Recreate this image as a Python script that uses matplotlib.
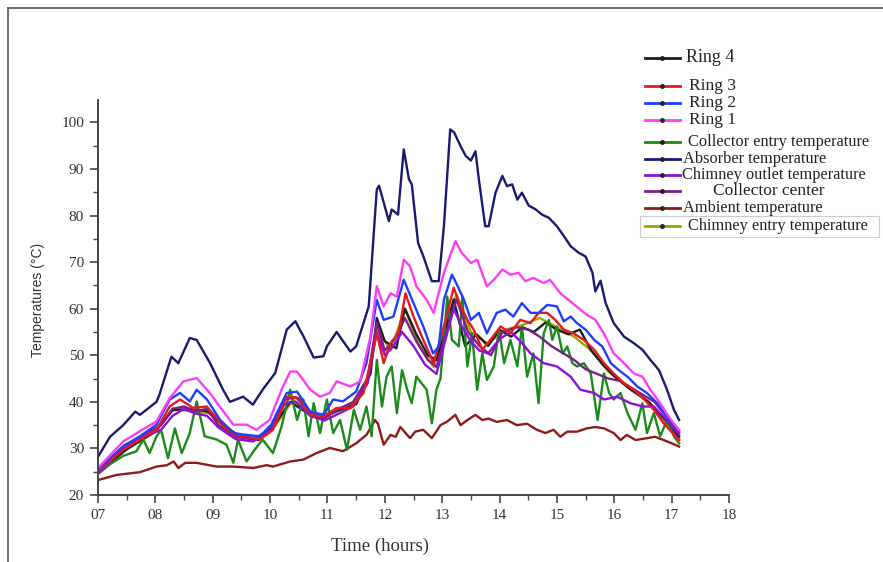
import matplotlib
matplotlib.use("Agg")
import matplotlib.pyplot as plt
from matplotlib.lines import Line2D
from matplotlib.patches import Rectangle
from matplotlib.ticker import MultipleLocator, FixedLocator

W, H = 883, 562

# ---------------- data ----------------
x_ticks = [7, 8, 9, 10, 11, 12, 13, 14, 15, 16, 17, 18]
x_tick_labels = ["07", "08", "09", "10", "11", "12", "13", "14", "15", "16", "17", "18"]
y_ticks = [20, 30, 40, 50, 60, 70, 80, 90, 100]

t_abs = [7.0,7.21,7.44,7.65,7.73,8.02,8.07,8.28,8.4,8.6,8.72,8.95,9.18,9.3,9.53,9.7,9.87,10.09,10.29,10.44,10.58,10.76,10.93,10.99,11.16,11.4,11.5,11.72,11.86,11.9,12.07,12.12,12.23,12.33,12.42,12.47,12.58,12.67,12.82,12.94,13.03,13.14,13.21,13.32,13.41,13.5,13.58,13.64,13.75,13.81,13.93,14.05,14.13,14.22,14.31,14.39,14.51,14.62,14.74,14.86,15.0,15.12,15.24,15.38,15.5,15.62,15.67,15.76,15.85,15.99,16.17,16.34,16.49,16.63,16.78,16.92,17.04,17.13]
v_abs = [28.2,32.5,35,37.9,37.2,40,41.5,49.7,48.3,53.7,53.3,48.4,42.6,40,41.1,39.4,42.6,46.2,55.5,57.3,54.1,49.5,49.8,51.9,55,50.8,51.9,60.5,85.6,86.4,78.8,81.3,80.2,94.2,87.8,86.7,74.1,71.3,65.9,65.9,77.7,98.5,97.8,94.9,92.8,91.8,93.8,87.7,77.7,77.7,84.9,88.5,86.3,86.7,83.4,84.9,82.1,81.4,80.2,79.5,77.7,75.6,73.4,72,71.2,67.7,63.7,66,61.2,56.9,54,52.6,51.2,49,46.8,42.6,38.3,36.1]

t_amb = [7.0,7.32,7.73,8.02,8.2,8.32,8.4,8.52,8.72,9.07,9.36,9.71,9.94,10.05,10.35,10.58,10.81,11.04,11.27,11.5,11.68,11.83,11.88,11.98,12.1,12.19,12.27,12.44,12.53,12.67,12.82,12.97,13.08,13.23,13.32,13.44,13.58,13.7,13.81,13.95,14.13,14.3,14.48,14.65,14.8,14.94,15.06,15.18,15.35,15.52,15.67,15.82,15.99,16.11,16.22,16.37,16.57,16.71,16.86,17.0,17.13]
v_amb = [23.2,24.3,24.9,26.1,26.4,27.2,25.8,26.9,26.9,26.1,26.1,25.8,26.4,26.1,27.2,27.6,29,30.1,29.4,31.1,32.9,36.1,35.3,30.8,32.9,32.5,34.6,32.2,33.6,34,32.2,35,35.7,37.2,35,36.1,37.2,36.1,36.4,35.7,36.1,35,35.3,34,33.3,34,32.5,33.6,33.6,34.3,34.6,34.3,33.3,31.8,32.9,31.8,32.2,32.5,31.8,31.1,30.4]

t_r1 = [7.0,7.44,7.73,8.02,8.25,8.49,8.72,8.95,9.18,9.36,9.59,9.76,9.99,10.2,10.35,10.47,10.7,10.87,11.04,11.16,11.4,11.57,11.75,11.86,11.98,12.1,12.21,12.33,12.44,12.55,12.73,12.85,13.03,13.23,13.34,13.5,13.61,13.78,13.9,14.05,14.19,14.33,14.45,14.59,14.77,14.88,15.06,15.2,15.38,15.52,15.67,15.82,15.99,16.17,16.34,16.49,16.63,16.8,16.95,17.13]
v_r1 = [25.8,31.5,33.7,35.8,40.8,44.4,45.1,41.9,38,35.1,35.1,34,36.1,42.6,46.5,46.5,42.6,41.1,41.9,44.4,43.3,44.4,54,64.8,60.5,63.3,62.6,70.5,69.1,64.8,61.9,59.1,67.7,74.5,72,69.8,70.5,64.8,66.2,68.4,67.3,67.7,65.9,66.6,65.5,66.2,63.3,61.9,60.1,58.7,57.6,54.7,50.4,48.3,46.1,45.4,42.6,39.7,36.8,33.9]

t_r2 = [7.0,7.44,7.73,8.02,8.25,8.43,8.6,8.72,8.9,9.13,9.36,9.59,9.82,10.02,10.29,10.47,10.7,10.93,11.1,11.27,11.5,11.68,11.86,11.98,12.15,12.33,12.5,12.67,12.84,12.94,13.03,13.17,13.26,13.38,13.5,13.64,13.78,13.95,14.1,14.24,14.39,14.54,14.68,14.83,15.0,15.12,15.24,15.35,15.5,15.65,15.79,15.94,16.08,16.23,16.4,16.57,16.75,16.92,17.13]
v_r2 = [25.5,30.5,32.6,35.1,40.5,41.9,40.1,42.6,40.5,36.1,33.3,32.9,32.6,35.1,41.9,42.2,37.9,37.2,40.5,40.1,42.2,48.3,61.9,57.6,58.3,66.2,61.2,56.2,50.4,51.9,61.9,67.3,65.1,61.9,57.6,59.1,54.7,59.1,59.8,58.3,61.2,59.1,59.1,60.8,60.5,57.3,58.3,56.9,55.5,53.3,51.9,48.3,46.8,45.4,43.3,41.9,39.7,36.8,33.9]

t_r3 = [7.0,7.44,7.73,8.02,8.25,8.43,8.66,8.9,9.13,9.36,9.59,9.82,10.05,10.29,10.5,10.7,10.93,11.16,11.4,11.63,11.86,11.98,12.1,12.24,12.36,12.5,12.67,12.85,13.06,13.2,13.32,13.44,13.55,13.7,13.84,14.02,14.19,14.36,14.54,14.68,14.83,14.97,15.12,15.29,15.47,15.65,15.82,15.99,16.17,16.34,16.52,16.69,16.86,17.13]
v_r3 = [25.1,29.7,31.9,34,39,40.5,38.7,39,35.5,32.9,32.6,31.9,34,41.1,40.8,37.2,36.8,38.7,38.7,41.9,54.7,48.3,52.6,54.7,63.3,58.3,53.3,48.3,57.6,64.5,60.5,57.6,55.5,51.2,53.3,56.2,54.7,57.6,56.9,59.1,59.1,57.6,55.5,54.7,53.3,51.2,48.3,46.1,44,42.6,40.5,38.3,35.4,31.8]

t_r4 = [7.0,7.5,8.0,8.3,8.6,8.9,9.2,9.5,9.8,10.1,10.35,10.6,10.9,11.2,11.5,11.75,11.86,12.0,12.2,12.35,12.55,12.75,12.9,13.05,13.2,13.4,13.6,13.8,14.0,14.2,14.4,14.6,14.8,15.0,15.2,15.4,15.6,15.8,16.0,16.3,16.6,16.9,17.13]
v_r4 = [24.8,29.8,33.6,38.2,38.5,38.0,34.8,32.4,31.8,35.5,40.0,38.0,36.5,38.2,39.5,46.0,58.0,53.0,51.5,60.0,54.5,50.0,49.0,55.0,62.0,52.0,54.5,52.0,55.5,54.0,56.0,55.0,57.0,55.5,54.5,55.5,51.0,48.0,45.5,42.5,40.0,36.0,32.5]

t_ce = [7.0,7.21,7.44,7.67,7.79,7.9,8.02,8.1,8.22,8.34,8.46,8.6,8.72,8.86,9.07,9.24,9.36,9.44,9.59,9.73,9.87,10.05,10.2,10.35,10.47,10.58,10.67,10.76,10.87,10.99,11.1,11.22,11.34,11.46,11.57,11.68,11.77,11.86,11.95,12.03,12.12,12.21,12.3,12.39,12.47,12.55,12.64,12.73,12.82,12.9,12.97,13.09,13.17,13.29,13.35,13.44,13.52,13.61,13.7,13.78,13.9,13.99,14.08,14.19,14.31,14.39,14.48,14.59,14.68,14.77,14.86,14.92,15.0,15.1,15.18,15.27,15.35,15.47,15.59,15.71,15.82,15.91,15.99,16.11,16.23,16.37,16.49,16.57,16.69,16.8,16.92,17.04,17.13]
v_ce = [24.5,26.6,28.4,29.4,31.9,29,32.6,34,27.9,34.3,29,33.3,40.1,32.6,31.9,30.8,26.9,31.9,27.2,29.7,31.9,29,34.7,42.6,36.1,40.5,32.6,39.7,33.3,40.5,33.3,36.1,29.7,38.3,34,39,32.6,49,39,45.4,47.6,37.6,46.8,42.6,39.7,45.4,44,42.6,35.4,42.6,45.0,62.6,53.3,51.9,62.6,47.6,54.7,42.6,50.4,44.7,47.6,55.5,48.3,53.3,47.6,56.2,45.4,50.4,39.7,54.7,57.6,53.3,56.2,50.4,51.9,48.3,47.6,48.3,46.1,36.1,46.1,41.9,40.5,41.9,37.6,34,39.7,33.3,37.6,32.6,36.1,32.6,31.1]

t_co = [7.0,7.4,7.8,8.1,8.3,8.5,8.7,8.9,9.1,9.4,9.7,10.0,10.25,10.45,10.7,10.95,11.2,11.45,11.7,11.86,12.0,12.15,12.3,12.5,12.7,12.9,13.05,13.2,13.35,13.5,13.65,13.8,14.0,14.2,14.4,14.54,14.77,15.0,15.24,15.41,15.65,15.82,16.05,16.28,16.5,16.69,16.86,17.13]
v_co = [24.6,29.5,32.5,34.0,37.0,38.5,37.5,37.0,34.5,32.0,31.5,33.5,39.5,40.0,37.0,36.0,37.5,39.0,44.0,55.0,50.0,52.0,55.0,52.0,48.0,46.0,53.0,60.0,56.0,53.0,51.0,50.4,53.5,55.0,52.5,50.4,48.3,47.6,45.4,42.6,41.9,40.5,41.1,39.7,39.0,39.0,36.8,33.0]

t_cc = [7.0,7.4,7.8,8.1,8.3,8.5,8.7,8.9,9.1,9.4,9.7,10.0,10.25,10.45,10.7,10.95,11.2,11.45,11.7,11.86,12.0,12.2,12.35,12.55,12.75,12.9,13.1,13.25,13.45,13.65,13.85,14.05,14.3,14.5,14.7,14.9,15.1,15.3,15.5,15.7,15.9,16.1,16.3,16.5,16.7,16.9,17.13]
v_cc = [25.0,30.0,33.0,35.0,38.5,39.0,38.0,38.5,35.0,32.5,32.0,34.0,40.5,41.0,37.5,36.5,38.5,40.0,45.0,57.0,51.0,54.0,58.0,53.0,49.0,47.5,56.0,62.0,55.0,52.0,50.0,55.0,56.0,55.5,54.0,52.0,50.5,49.0,47.0,46.0,45.0,44.5,43.0,41.5,40.0,37.0,33.5]

t_cen = [7.0,7.5,8.0,8.3,8.6,9.0,9.4,9.8,10.1,10.4,10.7,11.0,11.4,11.7,11.86,12.1,12.35,12.6,12.85,13.1,13.25,13.5,13.8,14.1,14.4,14.7,15.0,15.3,15.6,15.9,16.2,16.5,16.8,17.13]
v_cen = [24.9,30.0,33.8,38.5,38.0,37.5,33.0,32.0,35.0,40.5,37.0,37.5,39.0,45.0,56.0,51.0,60.0,52.0,47.5,58.0,63.0,55.0,52.5,55.5,56.5,58.0,56.0,54.0,51.0,46.5,43.5,41.0,37.0,32.0]

labels = ["Ring 4", "Ring 3", "Ring 2", "Ring 1", "Collector entry temperature",
          "Absorber temperature", "Chimney outlet temperature", "Collector center",
          "Ambient temperature", "Chimney entry temperature"]

# ---------------- style ----------------
col = {
    "Ring 4": "#1e1e1e",
    "Ring 3": "#e41a1c",
    "Ring 2": "#1f3dff",
    "Ring 1": "#ff3cf5",
    "Collector entry temperature": "#1b8a1b",
    "Absorber temperature": "#1a1a72",
    "Chimney outlet temperature": "#8c10d8",
    "Collector center": "#7a2088",
    "Ambient temperature": "#8e1b1b",
    "Chimney entry temperature": "#a3a300",
}

serif = ["Liberation Serif", "DejaVu Serif"]
sans = ["Liberation Sans", "DejaVu Sans"]

fig = plt.figure(figsize=(W / 100, H / 100), dpi=100)
fig.patch.set_facecolor("white")

def fx(px):
    return px / W

def fy(py):
    return 1 - py / H

ax_l, ax_r, ax_t, ax_b = 98, 729, 100, 495
ax = fig.add_axes([fx(ax_l), fy(ax_b), (ax_r - ax_l) / W, (ax_b - ax_t) / H])
ax.set_xlim(7, 18)
ax.set_ylim(20, 104.8)

lw = 1.7
series = [
    (t_cen, v_cen, "Chimney entry temperature"),
    (t_r4, v_r4, "Ring 4"),
    (t_amb, v_amb, "Ambient temperature"),
    (t_ce, v_ce, "Collector entry temperature"),
    (t_cc, v_cc, "Collector center"),
    (t_co, v_co, "Chimney outlet temperature"),
    (t_r3, v_r3, "Ring 3"),
    (t_r2, v_r2, "Ring 2"),
    (t_r1, v_r1, "Ring 1"),
    (t_abs, v_abs, "Absorber temperature"),
]
for t, v, name in series:
    ax.plot(t, v, color=col[name], lw=lw, solid_joinstyle="round")

for s in ["top", "right"]:
    ax.spines[s].set_visible(False)
for s in ["left", "bottom"]:
    ax.spines[s].set_color("#444444")
    ax.spines[s].set_linewidth(1.4)

ax.xaxis.set_major_locator(FixedLocator(x_ticks))
ax.set_xticklabels(x_tick_labels)
ax.xaxis.set_minor_locator(MultipleLocator(0.5))
ax.yaxis.set_major_locator(FixedLocator(y_ticks))
ax.yaxis.set_minor_locator(MultipleLocator(5))
ax.tick_params(which="major", direction="out", length=6, width=1.2, color="#444444",
               labelsize=11, labelcolor="#333333", pad=4)
ax.tick_params(which="minor", direction="out", length=3.5, width=1.0, color="#444444")
for lab in ax.get_xticklabels() + ax.get_yticklabels():
    lab.set_family(serif)

fig.text(fx(38), fy(300), "Temperatures (°C)", rotation=90, ha="center", va="center",
         fontsize=10, family=sans, color="#333333")
fig.text(fx(380), fy(546), "Time (hours)", ha="center", va="center",
         fontsize=13.5, family=serif, color="#333333")

# figure frame (left and top)
fig.add_artist(Line2D([fx(8), fx(8)], [fy(8), 0], transform=fig.transFigure,
                      color="#555555", lw=1.2))
fig.add_artist(Line2D([fx(8), 1], [fy(8), fy(8)], transform=fig.transFigure,
                      color="#555555", lw=1.2))

# legend (hand placed entries)
leg = [
    ("Ring 4", 58, 686, 13),
    ("Ring 3", 86, 689, 12.5),
    ("Ring 2", 103, 689, 12.5),
    ("Ring 1", 120, 689, 12.5),
    ("Collector entry temperature", 142, 688, 11.8),
    ("Absorber temperature", 159, 683, 11.8),
    ("Chimney outlet temperature", 175, 682, 11.8),
    ("Collector center", 191, 713, 12.5),
    ("Ambient temperature", 208, 683, 11.8),
    ("Chimney entry temperature", 226, 688, 11.8),
]
for name, py, tx, fs in leg:
    fig.add_artist(Line2D([fx(645), fx(680)], [fy(py), fy(py)], transform=fig.transFigure,
                          color=col[name], lw=2.0))
    fig.add_artist(Line2D([fx(662)], [fy(py)], transform=fig.transFigure, marker="o",
                          markersize=2.5, color="#222222", lw=0))
    fig.text(fx(tx), fy(py), name, ha="left", va="center", fontsize=fs, family=serif,
             color="#222222")

fig.add_artist(Rectangle((fx(640), fy(237)), fx(879) - fx(640), fy(216) - fy(237),
                         transform=fig.transFigure, fill=False, edgecolor="#cccccc", lw=0.8))

fig.savefig("out.png", dpi=100, facecolor="white")
